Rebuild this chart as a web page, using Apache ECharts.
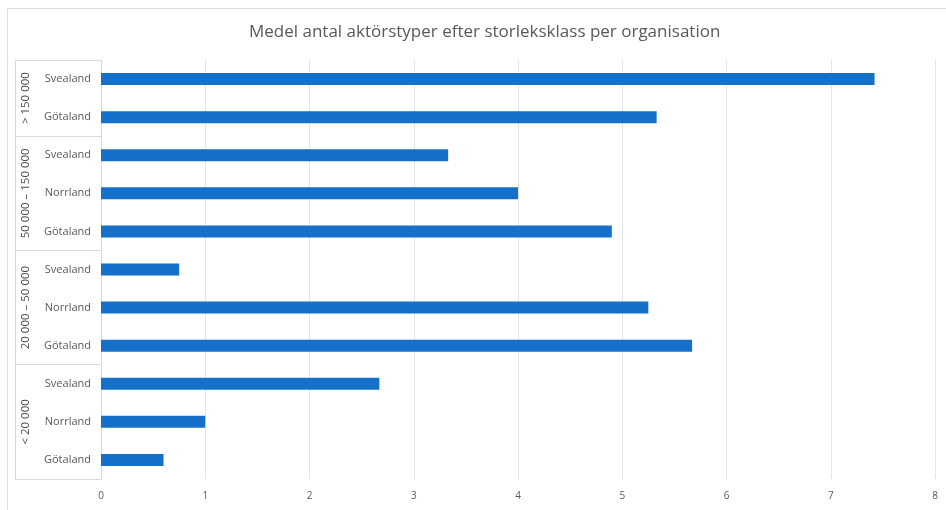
<!DOCTYPE html>
<html>
<head>
<meta charset="utf-8">
<script src="https://cdn.jsdelivr.net/npm/echarts@6/dist/echarts.min.js"></script>
<style>
  html, body { margin: 0; padding: 0; background: #fff; }
  #frame { position: absolute; left: 7px; top: 8px; width: 960px; height: 520px; border: 1px solid #dcdcdc; }
  #chart { position: absolute; left: 0; top: 0; width: 946px; height: 510px; }
</style>
</head>
<body>
<div id="frame"></div>
<div id="chart"></div>
<script>
// rows listed top to bottom
const regions = ["Svealand", "Götaland", "Svealand", "Norrland", "Götaland", "Svealand", "Norrland", "Götaland", "Svealand", "Norrland", "Götaland"];
const values = [7.42, 5.33, 3.33, 4.0, 4.9, 0.75, 5.25, 5.67, 2.67, 1.0, 0.6];
const groups = ["> 150 000", "50 000 – 150 000", "20 000 – 50 000", "< 20 000"];
const groupSizes = [2, 3, 3, 3];
const xTicks = [0, 1, 2, 3, 4, 5, 6, 7, 8];

// group boundaries and centres on a 0..n scale
const bounds = [0];
groupSizes.forEach(s => bounds.push(bounds[bounds.length - 1] + s));
const centres = groupSizes.map((s, i) => bounds[i] + s / 2);

const grey = "#595959";
const lineGrey = "#d9d9d9";
const font = "'Open Sans', 'Liberation Sans', sans-serif";

const chart = echarts.init(document.getElementById("chart"));
chart.setOption({
  animation: false,
  title: {
    text: "Medel antal aktörstyper efter storleksklass per organisation",
    left: 244,
    top: 19,
    textStyle: { fontSize: 17, fontWeight: "normal", color: grey, fontFamily: font }
  },
  grid: { left: 101, right: 11, top: 60, bottom: 31 },
  xAxis: {
    type: "value",
    min: xTicks[0],
    max: xTicks[xTicks.length - 1],
    interval: 1,
    axisLine: { show: false },
    axisTick: { show: false },
    axisLabel: { color: grey, fontSize: 10, fontFamily: font, margin: 12 },
    splitLine: { lineStyle: { color: "#e4e4e4", width: 1 } }
  },
  yAxis: [
    {
      type: "category",
      inverse: true,
      data: regions,
      axisLine: { show: true, lineStyle: { color: lineGrey } },
      axisTick: { show: false },
      axisLabel: { color: grey, fontSize: 11, fontFamily: font, margin: 10 }
    },
    {
      type: "value",
      position: "left",
      offset: 86,
      inverse: true,
      min: 0,
      max: bounds[bounds.length - 1],
      axisLine: { show: true, lineStyle: { color: lineGrey } },
      axisTick: { show: true, inside: true, length: 86, customValues: bounds, lineStyle: { color: lineGrey } },
      axisLabel: {
        show: true,
        inside: true,
        rotate: 90,
        margin: 5,
        customValues: centres,
        color: "#4a4a4a",
        fontSize: 11.5,
        fontFamily: font,
        formatter: v => groups[centres.indexOf(v)] || ""
      },
      splitLine: { show: false }
    }
  ],
  series: [
    {
      type: "bar",
      yAxisIndex: 0,
      data: values,
      barWidth: 12,
      itemStyle: { color: "#1570c9" }
    }
  ]
});
</script>
</body>
</html>
